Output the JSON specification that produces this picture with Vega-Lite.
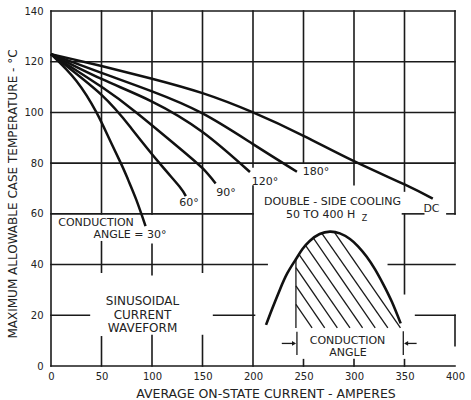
{
  "$schema": "https://vega.github.io/schema/vega-lite/v6.json",
  "width": 404,
  "height": 355,
  "autosize": "none",
  "padding": {"left": 51, "top": 11, "right": 16, "bottom": 34},
  "background": "white",
  "config": {"view": {"stroke": null}, "font": "DejaVu Sans"},
  "datasets": {
    "grid": [
      {"x": 0, "x2": 0, "y": 0, "y2": 140},
      {"x": 50, "x2": 50, "y": 60, "y2": 140},
      {"x": 50, "x2": 50, "y": 37, "y2": 49},
      {"x": 50, "x2": 50, "y": 0, "y2": 11.5},
      {"x": 100, "x2": 100, "y": 60, "y2": 140},
      {"x": 100, "x2": 100, "y": 36, "y2": 48},
      {"x": 100, "x2": 100, "y": 0, "y2": 12},
      {"x": 150, "x2": 150, "y": 37, "y2": 140},
      {"x": 150, "x2": 150, "y": 0, "y2": 12},
      {"x": 200, "x2": 200, "y": 78.5, "y2": 140},
      {"x": 200, "x2": 200, "y": 0, "y2": 71},
      {"x": 250, "x2": 250, "y": 80, "y2": 140},
      {"x": 250, "x2": 250, "y": 0, "y2": 2.5},
      {"x": 300, "x2": 300, "y": 71.5, "y2": 140},
      {"x": 300, "x2": 300, "y": 0, "y2": 2.5},
      {"x": 350, "x2": 350, "y": 69, "y2": 140},
      {"x": 350, "x2": 350, "y": 28.5, "y2": 60},
      {"x": 350, "x2": 350, "y": 0, "y2": 2.5},
      {"x": 400, "x2": 400, "y": 60, "y2": 140},
      {"x": 400, "x2": 400, "y": 8, "y2": 20},
      {"x": 0, "x2": 400, "y": 0, "y2": 0},
      {"x": 0, "x2": 38, "y": 20, "y2": 20},
      {"x": 161, "x2": 201.5, "y": 20, "y2": 20},
      {"x": 361, "x2": 400, "y": 20, "y2": 20},
      {"x": 0, "x2": 214, "y": 40, "y2": 40},
      {"x": 334, "x2": 400, "y": 40, "y2": 40},
      {"x": 0, "x2": 200, "y": 60, "y2": 60},
      {"x": 348, "x2": 369, "y": 60, "y2": 60},
      {"x": 392, "x2": 400, "y": 60, "y2": 60},
      {"x": 0, "x2": 400, "y": 80, "y2": 80},
      {"x": 0, "x2": 400, "y": 100, "y2": 100},
      {"x": 0, "x2": 400, "y": 120, "y2": 120},
      {"x": 0, "x2": 400, "y": 140, "y2": 140}
    ],
    "curves": [
      {"series": "DC", "x": 0, "y": 123},
      {"series": "DC", "x": 50, "y": 118.3},
      {"series": "DC", "x": 100, "y": 113.3},
      {"series": "DC", "x": 150, "y": 107.6},
      {"series": "DC", "x": 200, "y": 100},
      {"series": "DC", "x": 250, "y": 90.8},
      {"series": "DC", "x": 300, "y": 80.8},
      {"series": "DC", "x": 350, "y": 71.6},
      {"series": "DC", "x": 378, "y": 66},
      {"series": "180", "x": 0, "y": 123},
      {"series": "180", "x": 50, "y": 115.6},
      {"series": "180", "x": 100, "y": 108.3},
      {"series": "180", "x": 150, "y": 99.6},
      {"series": "180", "x": 200, "y": 87.5},
      {"series": "180", "x": 243.5, "y": 76.6},
      {"series": "120", "x": 0, "y": 123},
      {"series": "120", "x": 50, "y": 113.2},
      {"series": "120", "x": 100, "y": 104.3},
      {"series": "120", "x": 150, "y": 92.3},
      {"series": "120", "x": 197, "y": 76.5},
      {"series": "90", "x": 0, "y": 123},
      {"series": "90", "x": 50, "y": 110.1},
      {"series": "90", "x": 85, "y": 99.8},
      {"series": "90", "x": 127, "y": 86},
      {"series": "90", "x": 150, "y": 78},
      {"series": "90", "x": 163, "y": 72},
      {"series": "60", "x": 0, "y": 123},
      {"series": "60", "x": 50, "y": 106.9},
      {"series": "60", "x": 80, "y": 93.5},
      {"series": "60", "x": 107.4, "y": 80},
      {"series": "60", "x": 127, "y": 70.9},
      {"series": "60", "x": 133.5, "y": 67},
      {"series": "30", "x": 0, "y": 123},
      {"series": "30", "x": 25, "y": 112.5},
      {"series": "30", "x": 45, "y": 100},
      {"series": "30", "x": 58, "y": 89.3},
      {"series": "30", "x": 69.6, "y": 79.6},
      {"series": "30", "x": 76.5, "y": 73.3},
      {"series": "30", "x": 84.4, "y": 65.6},
      {"series": "30", "x": 93.6, "y": 55.2}
    ],
    "wave": [
      {"x": 212.9, "y": 16.2},
      {"x": 219, "y": 22.6},
      {"x": 226.7, "y": 30.2},
      {"x": 234, "y": 36.6},
      {"x": 242.3, "y": 42},
      {"x": 249, "y": 46.1},
      {"x": 256.4, "y": 49.4},
      {"x": 266, "y": 52.05},
      {"x": 276.2, "y": 53},
      {"x": 286, "y": 52.3},
      {"x": 296, "y": 50.1},
      {"x": 304, "y": 47.2},
      {"x": 312.6, "y": 43.1},
      {"x": 321, "y": 38},
      {"x": 329, "y": 32.2},
      {"x": 337.5, "y": 25.3},
      {"x": 346.2, "y": 16.8}
    ],
    "hatch": [
      {"x": 242.5, "y": 15, "x2": 242.5, "y2": 42.2},
      {"x": 242.5, "y": 24.3, "x2": 258.5, "y2": 15},
      {"x": 242.5, "y": 31.6, "x2": 271, "y2": 15},
      {"x": 242.5, "y": 38.8, "x2": 283.5, "y2": 15},
      {"x": 245, "y": 44.3, "x2": 296, "y2": 15},
      {"x": 252, "y": 47.6, "x2": 308.5, "y2": 15},
      {"x": 260, "y": 50.3, "x2": 321, "y2": 15},
      {"x": 268, "y": 52.4, "x2": 333.5, "y2": 15},
      {"x": 280.5, "y": 52.8, "x2": 346, "y2": 15},
      {"x": 243.5, "y": 4.3, "x2": 243.5, "y2": 13.5},
      {"x": 228.5, "y": 8.9, "x2": 241, "y2": 8.9},
      {"x": 348.8, "y": 4.3, "x2": 348.8, "y2": 13.7},
      {"x": 362, "y": 8.9, "x2": 351, "y2": 8.9}
    ],
    "arrows": [
      {"x": 240.6, "y": 8.9, "dir": "right"},
      {"x": 351.6, "y": 8.9, "dir": "left"}
    ],
    "labels": [
      {"x": 262.4, "y": 76.5, "t": "180°"},
      {"x": 211.9, "y": 72.7, "t": "120°"},
      {"x": 173.3, "y": 68.1, "t": "90°"},
      {"x": 136.6, "y": 64.4, "t": "60°"},
      {"x": 376.7, "y": 61.8, "t": "DC"},
      {"x": 44.6, "y": 56.5, "t": "CONDUCTION"},
      {"x": 78.2, "y": 51.7, "t": "ANGLE = 30°"},
      {"x": 278.7, "y": 64.5, "t": "DOUBLE - SIDE COOLING"},
      {"x": 267, "y": 59.7, "t": "50 TO 400 H"},
      {"x": 293.6, "y": 10, "t": "CONDUCTION"},
      {"x": 294, "y": 5, "t": "ANGLE"}
    ],
    "block": [
      {"x": 90.6, "y": 25.6, "t": "SINUSOIDAL"},
      {"x": 90.6, "y": 20.1, "t": "CURRENT"},
      {"x": 90.6, "y": 14.9, "t": "WAVEFORM"}
    ],
    "sub": [
      {"x": 310.5, "y": 58, "t": "Z"}
    ]
  },
  "encoding": {
    "x": {
      "field": "x", "type": "quantitative",
      "scale": {"domain": [0, 400], "nice": false},
      "axis": {
        "values": [0, 50, 100, 150, 200, 250, 300, 350, 400],
        "grid": false, "domain": false, "ticks": false, "tickSize": 0,
        "labelFont": "DejaVu Sans", "labelFontSize": 10, "labelColor": "#222",
        "labelPadding": 5, "labelFlush": false,
        "title": "AVERAGE ON-STATE CURRENT - AMPERES",
        "titleFont": "DejaVu Sans", "titleFontSize": 12.5, "titleFontWeight": "normal",
        "titleColor": "#222", "titleX": 214.5, "titleY": 31,
        "titleBaseline": "alphabetic", "titleAlign": "center"
      }
    },
    "y": {
      "field": "y", "type": "quantitative",
      "scale": {"domain": [0, 140], "nice": false},
      "axis": {
        "values": [0, 20, 40, 60, 80, 100, 120, 140],
        "grid": false, "domain": false, "ticks": false, "tickSize": 0,
        "labelFont": "DejaVu Sans", "labelFontSize": 10, "labelColor": "#222",
        "labelPadding": 8, "labelFlush": false,
        "title": "MAXIMUM ALLOWABLE CASE TEMPERATURE - °C",
        "titleFont": "DejaVu Sans", "titleFontSize": 12, "titleFontWeight": "normal",
        "titleColor": "#222", "titleX": -39, "titleY": 182.5,
        "titleBaseline": "middle", "titleAlign": "center", "titleAngle": 270
      }
    }
  },
  "layer": [
    {
      "data": {"name": "grid"},
      "mark": {"type": "rule", "color": "#1a1a1a", "strokeWidth": 1.6, "strokeCap": "square"},
      "encoding": {"x2": {"field": "x2"}, "y2": {"field": "y2"}}
    },
    {
      "data": {"name": "hatch"},
      "mark": {"type": "rule", "color": "#1a1a1a", "strokeWidth": 1.3},
      "encoding": {"x2": {"field": "x2"}, "y2": {"field": "y2"}}
    },
    {
      "data": {"name": "arrows"},
      "mark": {"type": "point", "filled": true, "color": "#1a1a1a", "size": 22, "opacity": 1},
      "encoding": {
        "shape": {"field": "dir", "type": "nominal", "scale": {"domain": ["right", "left"], "range": ["triangle-right", "triangle-left"]}, "legend": null}
      }
    },
    {
      "data": {"name": "wave"},
      "mark": {"type": "line", "color": "#111", "strokeWidth": 2.6, "interpolate": "natural"},
      "encoding": {}
    },
    {
      "data": {"name": "curves"},
      "mark": {"type": "line", "color": "#111", "strokeWidth": 2.5, "interpolate": "natural"},
      "encoding": {"detail": {"field": "series", "type": "nominal"}}
    },
    {
      "data": {"name": "labels"},
      "mark": {"type": "text", "font": "DejaVu Sans", "fontSize": 11, "color": "#222", "align": "center", "baseline": "middle"},
      "encoding": {"text": {"field": "t", "type": "nominal"}}
    },
    {
      "data": {"name": "block"},
      "mark": {"type": "text", "font": "DejaVu Sans", "fontSize": 12, "color": "#222", "align": "center", "baseline": "middle"},
      "encoding": {"text": {"field": "t", "type": "nominal"}}
    },
    {
      "data": {"name": "sub"},
      "mark": {"type": "text", "font": "DejaVu Sans", "fontSize": 8, "color": "#222", "align": "center", "baseline": "middle"},
      "encoding": {"text": {"field": "t", "type": "nominal"}}
    }
  ]
}
